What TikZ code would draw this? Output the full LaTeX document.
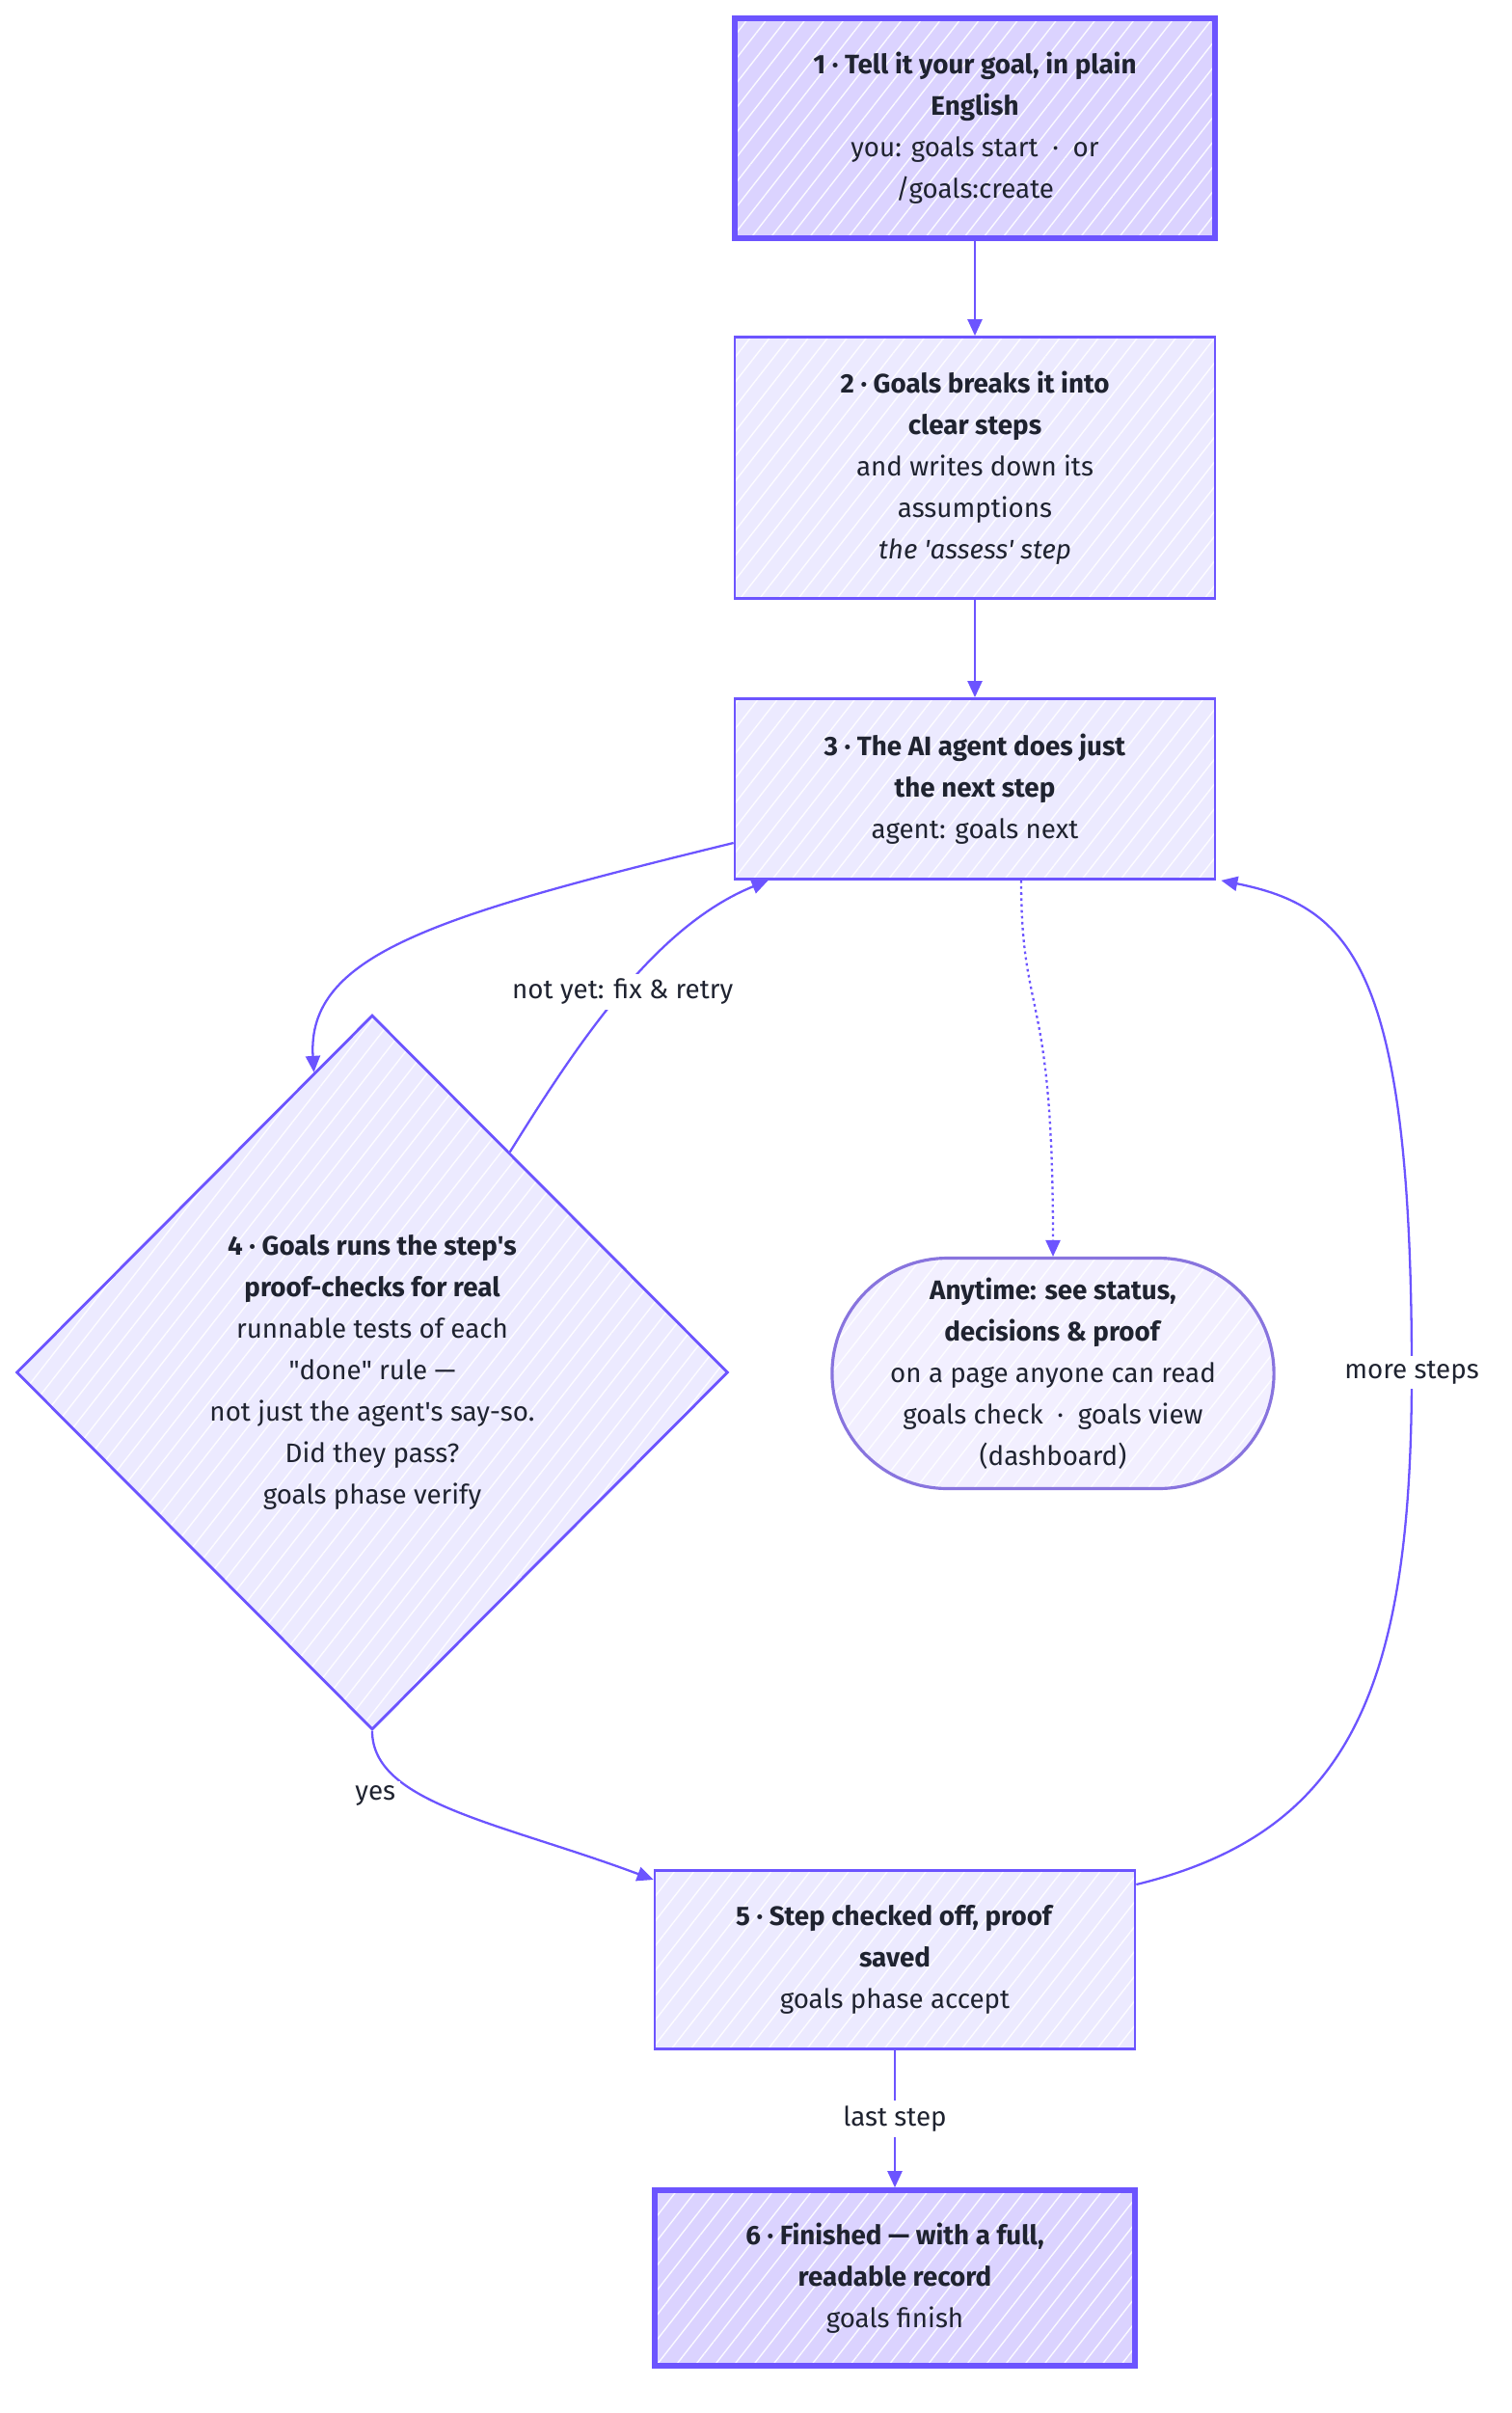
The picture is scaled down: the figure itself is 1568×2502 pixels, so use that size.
\documentclass[tikz,border=0pt]{standalone}
\usepackage{fontspec}
\setmainfont{Fira Sans}
\usetikzlibrary{shapes.geometric,shapes.misc,arrows.meta,patterns.meta,calc}

\definecolor{edgec}{RGB}{108,84,255}
\definecolor{boxfill}{RGB}{236,234,255}
\definecolor{endfill}{RGB}{219,211,255}
\definecolor{viewfill}{RGB}{242,239,255}
\definecolor{viewline}{RGB}{136,116,222}
\definecolor{inkc}{RGB}{31,35,48}

\tikzset{
  hatch/.style={preaction={fill=#1}, pattern={Lines[angle=52,distance=9pt,line width=0.8pt]}, pattern color=white!88!#1},
  stepbox/.style={draw=edgec, line width=1.6pt, hatch=boxfill, minimum width=9.96cm, align=center, text=inkc},
  endbox/.style={stepbox, line width=3.2pt, hatch=endfill},
  checkbox/.style={diamond, draw=edgec, line width=1.6pt, hatch=boxfill, minimum width=14.76cm, minimum height=14.82cm, inner sep=0pt, align=center, text=inkc},
  viewbox/.style={rounded rectangle, draw=viewline, line width=1.8pt, hatch=viewfill, minimum width=9.4cm, minimum height=4.78cm, align=center, text=inkc},
  flow/.style={->, draw=edgec, line width=1.3pt},
  elabel/.style={fill=white, text=inkc, inner sep=3pt}
}

\begin{document}
\begin{tikzpicture}[x=0.02cm, y=-0.02cm, >={Triangle[length=0.34cm,width=0.3cm]},
    font=\fontsize{15.8}{24.5}\selectfont]
    \useasboundingbox (0,0) rectangle (1568,2502);

    \node[endbox, minimum height=4.56cm] (n1) at (1011,133)
        {\textbf{1 · Tell it your goal, in plain}\\\textbf{English}\\you: goals start \ · \ or\\/goals:create};
    \node[stepbox, minimum height=5.42cm] (n2) at (1011,485)
        {\textbf{2 · Goals breaks it into}\\\textbf{clear steps}\\and writes down its\\assumptions\\\textit{the \textquotesingle assess\textquotesingle\ step}};
    \node[stepbox, minimum height=3.74cm] (n3) at (1011,818)
        {\textbf{3 · The AI agent does just}\\\textbf{the next step}\\agent: goals next};
    \node[checkbox] (n4) at (386,1423)
        {\textbf{4 · Goals runs the step\textquotesingle s}\\\textbf{proof-checks for real}\\runnable tests of each\\\textquotedbl done\textquotedbl\ rule —\\not just the agent\textquotesingle s say-so.\\Did they pass?\\goals phase verify};
    \node[viewbox] (view) at (1092,1424)
        {\textbf{Anytime: see status,}\\\textbf{decisions \& proof}\\on a page anyone can read\\goals check \ · \ goals view\\(dashboard)};
    \node[stepbox, minimum height=3.7cm] (n5) at (928,2032)
        {\textbf{5 · Step checked off, proof}\\\textbf{saved}\\goals phase accept};
    \node[endbox, minimum height=3.64cm] (n6) at (928,2362)
        {\textbf{6 · Finished — with a full,}\\\textbf{readable record}\\goals finish};

    % main line
    \draw[flow] (n1) -- (n2);
    \draw[flow] (n2) -- (n3);
    \draw[flow] ($(n3.west)+(0,56)$) .. controls (450,950) and (318,990) .. (n4.101);
    \draw[flow] (n4.58) .. controls (600,1080) and (680,960) .. node[elabel, pos=0.5] {not yet: fix \& retry} ($(n3.south west)+(36,0)$);
    \draw[flow] (n4.south) .. controls (386,1870) and (520,1890) .. node[elabel, pos=0.22, xshift=-0.3cm, yshift=-0.5cm] {yes} ($(n5.west)+(0,-83)$);
    \draw[flow] (n5) -- node[elabel] {last step} (n6);

    % loop back
    \draw[flow] ($(n5.east)+(0,-78)$) .. controls (1400,1900) and (1464,1750) .. (1464,1423) node[elabel] {more steps}
        .. controls (1464,1000) and (1400,940) .. ($(n3.south east)+(5,0)$);

    % view at any time
    \draw[flow, dash pattern=on 1.5pt off 2pt] ($(n3.south)+(48,0)$) .. controls (1059,1060) and (1092,1020) .. (view.north);
\end{tikzpicture}
\end{document}
